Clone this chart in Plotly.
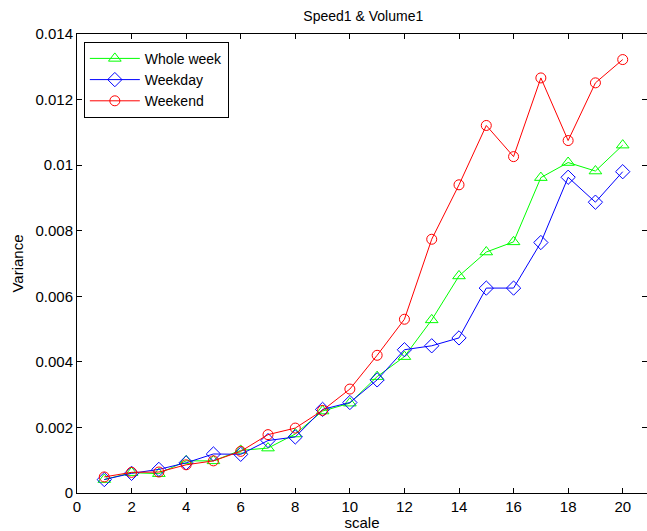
import plotly.graph_objects as go

scale = list(range(1, 21))
whole_week = [0.00041, 0.00062, 0.00059, 0.00098, 0.00098, 0.0013, 0.00137, 0.0018, 0.0025, 0.00274,
              0.00355, 0.00416, 0.00528, 0.00662, 0.00735, 0.00766, 0.00962, 0.01008, 0.00982, 0.01061]
weekday = [0.00041, 0.0006, 0.00072, 0.00092, 0.00119, 0.00118, 0.0016, 0.00171, 0.00255, 0.00276,
           0.00345, 0.00437, 0.00449, 0.00473, 0.00625, 0.00625, 0.00764, 0.00963, 0.00887, 0.0098]
weekend = [0.00049, 0.00063, 0.00064, 0.00086, 0.00098, 0.00127, 0.00178, 0.00198, 0.00252, 0.00317,
           0.0042, 0.0053, 0.00774, 0.0094, 0.01121, 0.01026, 0.01266, 0.01075, 0.01251, 0.01322]

x_ticks = [0, 2, 4, 6, 8, 10, 12, 14, 16, 18, 20]
y_ticks = [0, 0.002, 0.004, 0.006, 0.008, 0.01, 0.012, 0.014]
y_ticktext = ["0", "0.002", "0.004", "0.006", "0.008", "0.01", "0.012", "0.014"]

FONT = "Liberation Sans, Arial, Helvetica, sans-serif"

fig = go.Figure()
series = [
    ("Whole week", whole_week, "#00ff00", "triangle-up-open", 11),
    ("Weekday", weekday, "#0000ff", "diamond-open", 11),
    ("Weekend", weekend, "#ff0000", "circle-open", 10),
]
for name, vals, color, sym, sz in series:
    fig.add_trace(go.Scatter(
        x=scale, y=vals, name=name, mode="lines+markers",
        line=dict(color=color, width=1),
        marker=dict(symbol=sym, size=sz, color=color, line=dict(color=color, width=1)),
    ))

axis_common = dict(
    showgrid=False, zeroline=False, showline=True, linecolor="black", linewidth=1,
    mirror="ticks", ticks="inside", ticklen=5, tickcolor="black",
    tickfont=dict(family=FONT, size=15, color="black"),
)

fig.update_layout(
    width=647, height=531,
    margin=dict(l=77, r=0, t=34, b=38),
    paper_bgcolor="white", plot_bgcolor="white",
    title=dict(text="Speed1 & Volume1", x=0.5615, xanchor="center", y=0.97, yanchor="middle",
               font=dict(family=FONT, size=14, color="black")),
    xaxis=dict(range=[0, 20.89], tickvals=x_ticks,
               title=dict(text="scale", font=dict(family=FONT, size=15, color="black"), standoff=6),
               **axis_common),
    yaxis=dict(range=[0, 0.014], tickvals=y_ticks, ticktext=y_ticktext,
               title=dict(text="Variance", font=dict(family=FONT, size=15, color="black"), standoff=8),
               **axis_common),
    legend=dict(x=0.012, y=0.983, xanchor="left", yanchor="top",
                bgcolor="white", bordercolor="black", borderwidth=1,
                font=dict(family=FONT, size=14, color="black"),
                tracegroupgap=0, itemwidth=50),
    showlegend=True,
)

fig.write_html("out.html")
